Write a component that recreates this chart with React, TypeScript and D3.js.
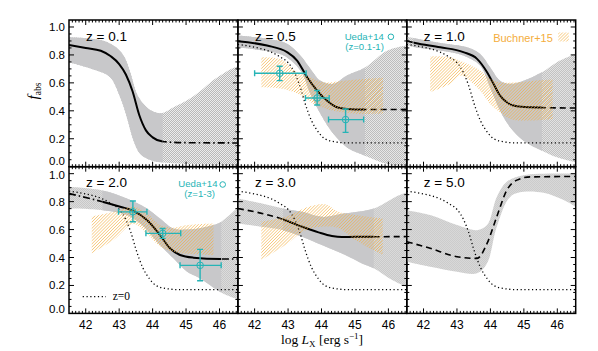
import React from "react";
import * as d3 from "d3";

type Pt = [number, number];
// [logL, f, logL low, logL high, f low, f high]
type ErrPt = [number, number, number, number, number, number];

const redshiftLabels = ["z = 0.1", "z = 0.5", "z = 1.0", "z = 2.0", "z = 3.0", "z = 5.0"];
const xTicks = [42, 43, 44, 45, 46];
const yTicks = [0, 0.2, 0.4, 0.6, 0.8, 1.0];

// model fit (solid inside the constrained range, dashed outside)
const fitZ01: Pt[] = [[41.5, 0.872], [42.0, 0.85], [42.45, 0.83], [42.75, 0.79], [43.0, 0.735], [43.2, 0.66], [43.4, 0.54], [43.6, 0.37], [43.8, 0.26], [44.0, 0.21], [44.3, 0.18], [45.0, 0.172], [46.55, 0.17]];
const fitZ05: Pt[] = [[41.5, 0.898], [42.37, 0.867], [42.97, 0.82], [43.27, 0.76], [43.57, 0.64], [43.87, 0.545], [44.16, 0.473], [44.46, 0.425], [44.76, 0.413], [45.3, 0.409], [46.55, 0.41]];
const fitZ10: Pt[] = [[41.5, 0.9], [41.75, 0.886], [42.5, 0.855], [43.19, 0.82], [43.6, 0.772], [43.9, 0.676], [44.09, 0.593], [44.29, 0.509], [44.49, 0.461], [44.79, 0.432], [45.19, 0.425], [45.54, 0.423], [46.55, 0.42]];
const fitZ20: Pt[] = [[41.5, 0.858], [42.5, 0.799], [43.03, 0.763], [43.43, 0.734], [43.83, 0.668], [44.22, 0.561], [44.52, 0.466], [44.82, 0.418], [45.22, 0.399], [46.02, 0.389], [46.55, 0.389]];
const fitZ30: Pt[] = [[41.5, 0.751], [42.85, 0.673], [43.42, 0.62], [43.91, 0.58], [44.31, 0.554], [44.61, 0.546], [45.01, 0.549], [45.56, 0.549], [46.55, 0.55]];
const fitZ50: Pt[] = [[41.5, 0.513], [42.2, 0.466], [43.0, 0.406], [43.6, 0.394], [43.9, 0.501], [44.19, 0.692], [44.49, 0.882], [44.79, 0.954], [45.19, 0.977], [46.55, 0.98]];

// uncertainty bands
const upZ01: Pt[] = [[41.5, 0.927], [42.4, 0.908], [42.83, 0.867], [43.13, 0.796], [43.33, 0.676], [43.53, 0.521], [43.73, 0.449], [43.93, 0.406], [44.25, 0.382], [44.63, 0.425], [45.02, 0.473], [45.42, 0.54], [45.82, 0.62], [46.2, 0.68], [46.55, 0.72]];
const loZ01: Pt[] = [[41.5, 0.748], [42.33, 0.688], [42.73, 0.64], [43.03, 0.497], [43.23, 0.354], [43.43, 0.186], [43.63, 0.091], [43.93, 0.048], [44.25, 0.031], [45.0, 0.02], [46.55, 0.01]];
const upZ05: Pt[] = [[41.5, 0.939], [42.37, 0.915], [42.97, 0.88], [43.37, 0.796], [43.67, 0.7], [43.97, 0.616], [44.36, 0.593], [44.76, 0.652], [45.3, 0.71], [45.96, 0.83], [46.55, 0.87]];
const loZ05: Pt[] = [[41.5, 0.855], [42.3, 0.83], [42.87, 0.796], [43.37, 0.688], [43.67, 0.521], [43.97, 0.378], [44.36, 0.234], [44.76, 0.138], [45.3, 0.079], [45.96, 0.02], [46.55, 0.01]];
const upZ10: Pt[] = [[41.5, 0.93], [42.5, 0.886], [43.3, 0.855], [43.69, 0.808], [43.99, 0.712], [44.29, 0.616], [44.59, 0.593], [44.99, 0.616], [45.54, 0.676], [45.99, 0.748], [46.55, 0.808]];
const loZ10: Pt[] = [[41.5, 0.87], [41.75, 0.855], [42.5, 0.832], [43.19, 0.796], [43.69, 0.724], [43.99, 0.569], [44.29, 0.401], [44.59, 0.282], [44.99, 0.186], [45.54, 0.115], [45.99, 0.067], [46.55, 0.031]];
const upZ20: Pt[] = [[41.5, 0.906], [42.5, 0.88], [43.23, 0.823], [43.83, 0.751], [44.22, 0.68], [44.62, 0.608], [45.02, 0.6], [45.42, 0.61], [45.82, 0.632], [46.05, 0.656], [46.55, 0.76]];
const loZ20: Pt[] = [[41.5, 0.751], [42.5, 0.739], [43.23, 0.704], [43.68, 0.632], [44.22, 0.489], [44.62, 0.394], [45.02, 0.3], [45.42, 0.25], [46.05, 0.15], [46.55, 0.1]];
const upZ30: Pt[] = [[41.5, 0.823], [42.22, 0.787], [42.85, 0.751], [43.42, 0.727], [44.01, 0.691], [44.71, 0.716], [45.56, 0.751], [46.21, 0.834], [46.55, 0.867]];
const loZ30: Pt[] = [[41.5, 0.644], [42.22, 0.62], [42.85, 0.596], [43.42, 0.549], [44.01, 0.489], [44.71, 0.418], [45.21, 0.358], [45.56, 0.323], [46.11, 0.239], [46.55, 0.19]];
const upZ50: Pt[] = [[41.5, 0.739], [42.2, 0.704], [43.0, 0.632], [43.6, 0.596], [43.9, 0.632], [44.19, 0.834], [44.49, 0.942], [44.99, 0.989], [46.55, 1.0]];
const loZ50: Pt[] = [[41.5, 0.37], [42.2, 0.334], [43.0, 0.299], [43.6, 0.287], [43.9, 0.359], [44.19, 0.62], [44.59, 0.834], [44.99, 0.87], [45.59, 0.863], [46.19, 0.811], [46.55, 0.763]];

// range in logL where the model is constrained by data
const constrained: Pt[] = [[41.5, 44.3], [41.5, 45.3], [41.7, 45.54], [42.5, 46.05], [42.85, 45.56], [46.55, 46.55]];

// local z=0 relation
const z0Curve: Pt[] = [[41.5, 0.875], [42.0, 0.855], [42.5, 0.82], [42.8, 0.78], [43.0, 0.745], [43.2, 0.67], [43.35, 0.58], [43.5, 0.46], [43.7, 0.33], [43.9, 0.25], [44.1, 0.2], [44.4, 0.178], [44.8, 0.17], [46.55, 0.17]];

// Buchner+15
const buchUpZ05: Pt[] = [[42.2, 0.784], [42.77, 0.77], [43.27, 0.676], [43.67, 0.64], [44.06, 0.604], [44.66, 0.616], [45.26, 0.628], [45.84, 0.636]];
const buchLoZ05: Pt[] = [[42.2, 0.569], [42.77, 0.56], [43.27, 0.525], [43.77, 0.449], [44.36, 0.401], [45.16, 0.378], [45.84, 0.38]];
const buchUpZ10: Pt[] = [[42.2, 0.789], [42.8, 0.784], [43.3, 0.736], [43.69, 0.688], [43.99, 0.629], [44.29, 0.604], [44.79, 0.604], [45.29, 0.616], [45.86, 0.624]];
const buchLoZ10: Pt[] = [[42.2, 0.533], [42.8, 0.593], [43.1, 0.652], [43.69, 0.545], [43.99, 0.449], [44.29, 0.389], [44.59, 0.342], [45.09, 0.33], [45.86, 0.342]];
const buchUpZ20: Pt[] = [[42.18, 0.692], [42.83, 0.727], [43.43, 0.763], [43.83, 0.716], [44.22, 0.632], [44.62, 0.613], [45.02, 0.632], [45.82, 0.644]];
const buchLoZ20: Pt[] = [[42.18, 0.43], [42.83, 0.525], [43.43, 0.64], [43.83, 0.57], [44.22, 0.48], [44.62, 0.44], [45.82, 0.418]];
const buchUpZ30: Pt[] = [[42.2, 0.656], [42.92, 0.691], [43.61, 0.763], [44.11, 0.782], [44.51, 0.727], [45.01, 0.705], [45.83, 0.68]];
const buchLoZ30: Pt[] = [[42.2, 0.382], [42.92, 0.489], [43.52, 0.596], [44.01, 0.62], [44.51, 0.61], [45.01, 0.525], [45.83, 0.418]];

// Ueda+14
const uedaLowZ: ErrPt[] = [[42.75, 0.669, 42.0, 43.54, 0.616, 0.719], [43.87, 0.492, 43.52, 44.23, 0.442, 0.545], [44.72, 0.337, 44.21, 45.26, 0.246, 0.413]];
const uedaHighZ: ErrPt[] = [[43.41, 0.727, 42.98, 43.83, 0.656, 0.804], [44.3, 0.573, 43.8, 44.84, 0.537, 0.608], [45.42, 0.344, 44.82, 46.05, 0.234, 0.458]];

const fits = [fitZ01, fitZ05, fitZ10, fitZ20, fitZ30, fitZ50];
const ups = [upZ01, upZ05, upZ10, upZ20, upZ30, upZ50];
const los = [loZ01, loZ05, loZ10, loZ20, loZ30, loZ50];
const buchner: (Pt[][] | null)[] = [null, [buchUpZ05, buchLoZ05], [buchUpZ10, buchLoZ10], [buchUpZ20, buchLoZ20], [buchUpZ30, buchLoZ30], null];
const ueda: (ErrPt[] | null)[] = [null, uedaLowZ, null, uedaHighZ, null, null];

const left = 69;
const top = 20;
const pw = 168.9;
const ph = 146.7;
const CYAN = "#26b4b6";
const ORANGE = "#f4ad3c";
const SANS = "'Liberation Sans', Arial, Helvetica, sans-serif";
const SERIF = "'Liberation Serif', 'Times New Roman', serif";

const x = d3.scaleLinear().domain([41.5, 46.55]).range([0, pw]);
const y = d3.scaleLinear().domain([0, 1.05]).range([ph, 0]);

const smooth = d3.line<Pt>().x((d) => x(d[0])).y((d) => y(d[1])).curve(d3.curveMonotoneX);
const edge = d3.line<Pt>().x((d) => x(d[0])).y((d) => y(d[1])).curve(d3.curveCatmullRom.alpha(0.5));

function bandPath(up: Pt[], lo: Pt[]) {
  const a = edge(up)!;
  const b = edge([...lo].reverse())!;
  return a + "L" + b.slice(1) + "Z";
}

const minorX = d3.range(416, 466).map((v) => v / 10);
const minorY = d3.range(1, 21).map((v) => v * 0.05);

function Frame({ row, col }: { row: number; col: number }) {
  const ticks: JSX.Element[] = [];
  minorX.forEach((v, k) => {
    const major = Math.abs(v - Math.round(v)) < 1e-6;
    const len = major ? 5 : 2.5;
    const px = x(v);
    ticks.push(<line key={"xb" + k} x1={px} x2={px} y1={ph} y2={ph - len} />);
    ticks.push(<line key={"xt" + k} x1={px} x2={px} y1={0} y2={len} />);
  });
  minorY.forEach((v, k) => {
    const major = Math.abs(v * 5 - Math.round(v * 5)) < 1e-6;
    const len = major ? 5 : 2.5;
    const py = y(v);
    ticks.push(<line key={"yl" + k} x1={0} x2={len} y1={py} y2={py} />);
    ticks.push(<line key={"yr" + k} x1={pw} x2={pw - len} y1={py} y2={py} />);
  });
  return (
    <g>
      <g stroke="#000" strokeWidth={1}>{ticks}</g>
      <rect x={0} y={0} width={pw} height={ph} fill="none" stroke="#000" strokeWidth={1.5} />
      {col === 0 &&
        yTicks.map((v) => (
          <text
            key={v}
            x={-4}
            y={y(v) + (v === 0 ? (row === 0 ? -1.5 : 0) : v === 1 && row === 1 ? 5 : 4)}
            textAnchor="end"
            fontFamily={SANS}
            fontSize={11.5}
          >
            {v.toFixed(1)}
          </text>
        ))}
      {row === 1 &&
        xTicks.map((v) => (
          <text key={v} x={x(v)} y={ph + 16} textAnchor="middle" fontFamily={SANS} fontSize={12}>
            {v}
          </text>
        ))}
    </g>
  );
}

function ErrorBars({ pts }: { pts: ErrPt[] }) {
  return (
    <g stroke={CYAN} strokeWidth={1.4} fill="none">
      {pts.map((p, k) => {
        const cx = x(p[0]);
        const cy = y(p[1]);
        return (
          <g key={k}>
            <line x1={x(p[2])} x2={x(p[3])} y1={cy} y2={cy} />
            <line x1={x(p[2])} x2={x(p[2])} y1={cy - 3} y2={cy + 3} />
            <line x1={x(p[3])} x2={x(p[3])} y1={cy - 3} y2={cy + 3} />
            <line x1={cx} x2={cx} y1={y(p[4])} y2={y(p[5])} />
            <line x1={cx - 3} x2={cx + 3} y1={y(p[4])} y2={y(p[4])} />
            <line x1={cx - 3} x2={cx + 3} y1={y(p[5])} y2={y(p[5])} />
            <circle cx={cx} cy={cy} r={3.3} strokeWidth={1} />
          </g>
        );
      })}
    </g>
  );
}

function Panel({ i }: { i: number }) {
  const row = Math.floor(i / 3);
  const col = i % 3;
  const [s0, s1] = constrained[i];
  const extrapDash = i === 0 || i === 3 ? "7,3,1.5,3" : "6,4";
  return (
    <g transform={`translate(${left + col * pw},${top + row * ph})`}>
      <defs>
        <clipPath id={`frame-${i}`}>
          <rect x={0} y={0} width={pw} height={ph} />
        </clipPath>
        <clipPath id={`solid-${i}`}>
          <rect x={x(s0)} y={-5} width={Math.max(0, x(s1) - x(s0))} height={ph + 10} />
        </clipPath>
        <clipPath id={`extrap-${i}`}>
          <rect x={-5} y={-5} width={x(s0) + 5} height={ph + 10} />
          <rect x={x(s1)} y={-5} width={pw - x(s1) + 5} height={ph + 10} />
        </clipPath>
      </defs>
      <g clipPath={`url(#frame-${i})`}>
        <path d={bandPath(ups[i], los[i])} fill="url(#checker)" />
        <path d={bandPath(ups[i], los[i])} fill="#c8c8ca" clipPath={`url(#solid-${i})`} />
        {i > 0 && (
          <path d={smooth(z0Curve)!} fill="none" stroke="#000" strokeWidth={1.3} strokeDasharray="1.2,2.6" />
        )}
        <path d={smooth(fits[i])!} fill="none" stroke="#000" strokeWidth={2} clipPath={`url(#solid-${i})`} />
        <path
          d={smooth(fits[i])!}
          fill="none"
          stroke="#000"
          strokeWidth={1.6}
          strokeDasharray={extrapDash}
          clipPath={`url(#extrap-${i})`}
        />
        {buchner[i] && (
          <path d={bandPath(buchner[i]![0], buchner[i]![1])} fill="url(#hatch)" />
        )}
        {ueda[i] && <ErrorBars pts={ueda[i]!} />}
      </g>
      <text x={17} y={20.5} fontFamily={SANS} fontSize={13.5}>
        {redshiftLabels[i]}
      </text>
      {i === 1 && (
        <g fill={CYAN} fontFamily={SANS} fontSize={9.6}>
          <text x={146} y={19.8} textAnchor="end">Ueda+14</text>
          <text x={146} y={29.8} textAnchor="end">(z=0.1-1)</text>
          <circle cx={153} cy={16.8} r={2.8} fill="none" stroke={CYAN} strokeWidth={1} />
        </g>
      )}
      {i === 3 && (
        <g fill={CYAN} fontFamily={SANS} fontSize={9.6}>
          <text x={148.5} y={20.8} textAnchor="end">Ueda+14</text>
          <text x={146} y={30.6} textAnchor="end">(z=1-3)</text>
          <circle cx={153.7} cy={17.8} r={2.8} fill="none" stroke={CYAN} strokeWidth={1} />
        </g>
      )}
      {i === 2 && (
        <g>
          <text x={146} y={21.7} textAnchor="end" fill={ORANGE} fontFamily={SANS} fontSize={11}>
            Buchner+15
          </text>
          <rect x={151.5} y={12.5} width={10.5} height={9} fill="url(#hatch)" />
        </g>
      )}
      {i === 3 && (
        <g>
          <line x1={13.7} x2={37} y1={130} y2={130} stroke="#000" strokeWidth={1.3} strokeDasharray="1.2,2.6" />
          <text x={43.7} y={133.5} fontFamily={SERIF} fontSize={11.5}>
            z=0
          </text>
        </g>
      )}
      <Frame row={row} col={col} />
    </g>
  );
}

export default function App() {
  return (
    <svg width={598} height={351} style={{ position: "absolute", left: 0, top: 0, background: "#fff" }}>
      <defs>
        <pattern id="checker" patternUnits="userSpaceOnUse" width={2} height={2}>
          <rect x={0} y={0} width={2} height={2} fill="#ececec" />
          <rect x={0} y={0} width={1} height={1} fill="#b8b8b8" />
          <rect x={1} y={1} width={1} height={1} fill="#b8b8b8" />
        </pattern>
        <pattern id="hatch" patternUnits="userSpaceOnUse" width={2.2} height={2.2} patternTransform="rotate(45)">
          <line x1={0} y1={0} x2={0} y2={2.2} stroke={ORANGE} strokeWidth={1.15} strokeOpacity={0.85} />
        </pattern>
      </defs>
      {d3.range(6).map((i) => (
        <Panel key={i} i={i} />
      ))}
      <text transform="translate(38,91) rotate(-90)" textAnchor="middle" fontFamily={SERIF} fontSize={15}>
        <tspan fontStyle="italic">f</tspan>
        <tspan fontSize={9.5} dy={3}>abs</tspan>
      </text>
      <text x={322} y={344} textAnchor="middle" fontFamily={SERIF} fontSize={13.5}>
        log <tspan fontStyle="italic">L</tspan>
        <tspan fontSize={9} dy={3}>X</tspan>
        <tspan dy={-3}> [erg s</tspan>
        <tspan fontSize={9} dy={-5}>−1</tspan>
        <tspan dy={5}>]</tspan>
      </text>
    </svg>
  );
}
